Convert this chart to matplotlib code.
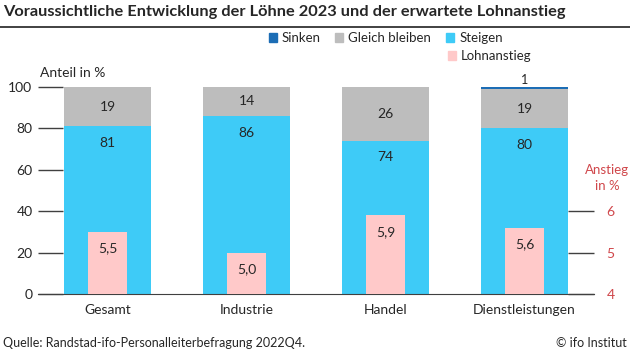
import numpy as np
import matplotlib
matplotlib.use("Agg")
from matplotlib import pyplot as plt
from matplotlib.patches import Patch

plt.rcParams['font.family'] = ['Lato', 'DejaVu Sans']

# data
categories = ['Gesamt', 'Industrie', 'Handel', 'Dienstleistungen']
steigen = [81, 86, 74, 80]
gleich = [19, 14, 26, 19]
sinken = [0, 0, 0, 1]
lohnanstieg = [5.5, 5.0, 5.9, 5.6]

c_steigen = '#3ECBF7'
c_gleich = '#BDBDBD'
c_sinken = '#1C6DB5'
c_lohn = '#FFC9C9'
c_red = '#D0474B'
c_text = '#262626'
fs = 10

fig = plt.figure(figsize=(6.3, 3.54), dpi=100)
ax = fig.add_axes([38/630, 1 - 294/354, (594 - 38)/630, (294 - 87)/354])
x = np.arange(len(categories))

ax.bar(x, steigen, width=0.62, color=c_steigen, zorder=2)
ax.bar(x, gleich, width=0.62, bottom=steigen, color=c_gleich, zorder=2)
ax.bar(x, sinken, width=0.62, bottom=np.array(steigen) + np.array(gleich), color=c_sinken, zorder=2)

ax.set_xlim(-0.5, 3.5)
ax.set_ylim(0, 100)
ax.set_yticks([0, 20, 40, 60, 80, 100])
ax.tick_params(axis='y', direction='in', length=18, width=1, color='#404040',
               labelsize=fs, labelcolor=c_text, pad=4)
ax.set_xticks(x)
ax.set_xticklabels(categories)
ax.tick_params(axis='x', length=0, labelsize=fs, labelcolor=c_text, pad=7)
for s in ['left', 'right', 'top']:
    ax.spines[s].set_visible(False)
ax.spines['bottom'].set_color('#404040')

for i in range(len(categories)):
    ax.annotate(str(steigen[i]), (x[i], steigen[i]), xytext=(0, -12), textcoords='offset points',
                ha='center', va='center', fontsize=fs, color=c_text, zorder=5)
    ax.text(x[i], steigen[i] + gleich[i] / 2, str(gleich[i]), ha='center', va='center',
            fontsize=fs, color=c_text, zorder=5)
    if sinken[i] > 0:
        ax.annotate(str(sinken[i]), (x[i], 100), xytext=(0, 5), textcoords='offset points',
                    ha='center', va='center', fontsize=9, color=c_text)

# Lohnanstieg on right axis
ax2 = ax.twinx()
ax2.bar(x, lohnanstieg, width=0.28, bottom=0, color=c_lohn, zorder=3)
ax2.set_ylim(4, 9)
ax2.set_yticks([4, 5, 6])
ax2.tick_params(axis='y', direction='in', length=18.5, width=1, color='#404040',
                labelsize=fs, labelcolor=c_red, pad=9)
for s in ['left', 'right', 'top', 'bottom']:
    ax2.spines[s].set_visible(False)
for i in range(len(categories)):
    ax2.annotate(f'{lohnanstieg[i]:.1f}'.replace('.', ','), (x[i], lohnanstieg[i]),
                 xytext=(0, -12), textcoords='offset points',
                 ha='center', va='center', fontsize=fs, color=c_text)

fig.text(40/630, 1 - 73/354, 'Anteil in %', ha='left', va='center', fontsize=fs, color=c_text)
fig.text(607/630, 1 - 178/354, 'Anstieg\nin %', ha='center', va='center', fontsize=9.5,
         color=c_red, linespacing=1.3)

# title and rule
fig.text(3/630, 1 - 12/354, 'Voraussichtliche Entwicklung der Löhne 2023 und der erwartete Lohnanstieg',
         ha='left', va='center', fontsize=11.8, fontweight='bold', color=c_text)
fig.add_artist(plt.Line2D([0, 1], [1 - 27/354, 1 - 27/354], color='#333333', lw=1.3))

# legends
h1 = [Patch(color=c_sinken), Patch(color=c_gleich), Patch(color=c_steigen)]
fig.legend(h1, ['Sinken', 'Gleich bleiben', 'Steigen'], loc='center left',
           bbox_to_anchor=(262/630, 1 - 38/354), ncol=3, frameon=False,
           fontsize=9.5, handlelength=0.6, handleheight=0.6, handletextpad=0.4,
           columnspacing=1.1, borderpad=0, labelcolor=c_text)
fig.legend([Patch(color=c_lohn)], ['Lohnanstieg'], loc='center left',
           bbox_to_anchor=(441/630, 1 - 56/354), frameon=False, fontsize=9.5,
           handlelength=0.6, handleheight=0.6, handletextpad=0.4, borderpad=0,
           labelcolor=c_text)

fig.text(3/630, 1 - 343/354, 'Quelle: Randstad-ifo-Personalleiterbefragung 2022Q4.',
         ha='left', va='center', fontsize=9, color=c_text)
fig.text(627/630, 1 - 343/354, '© ifo Institut', ha='right', va='center', fontsize=9, color=c_text)

fig.savefig('out.png', dpi=100)
